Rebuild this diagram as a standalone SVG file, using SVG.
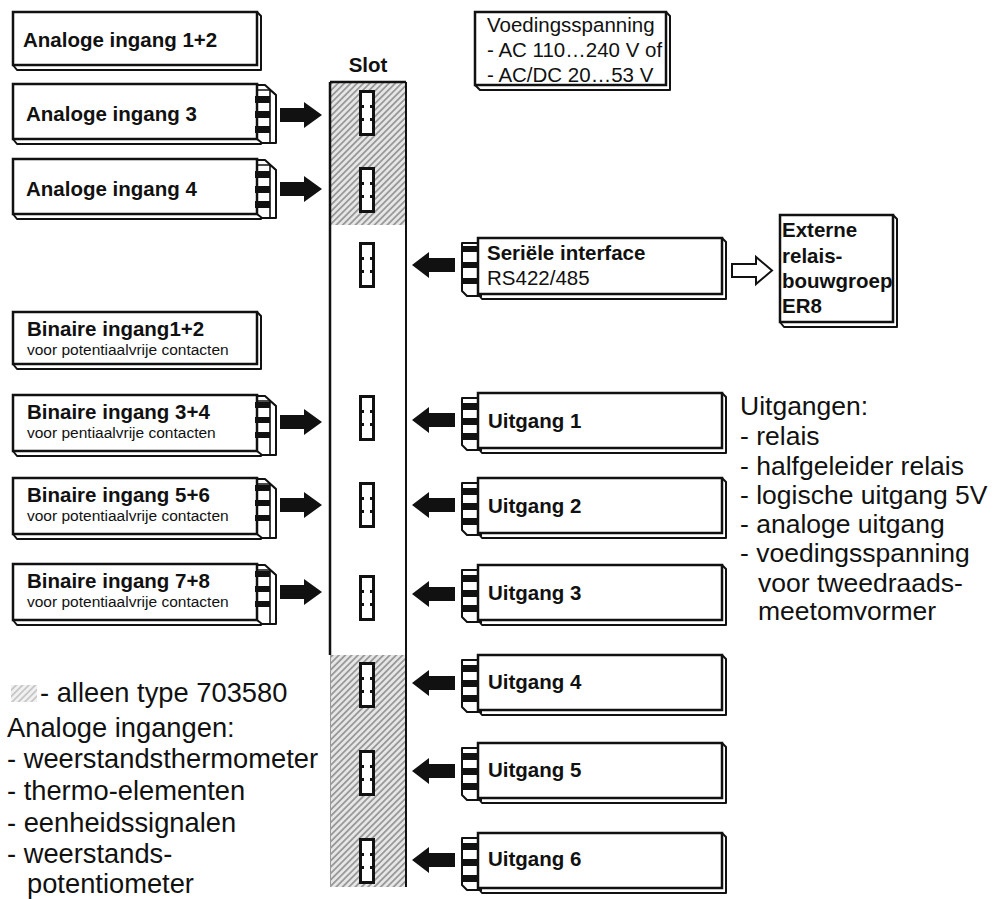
<svg xmlns="http://www.w3.org/2000/svg" xmlns:xlink="http://www.w3.org/1999/xlink" width="998" height="899" viewBox="0 0 998 899">
<defs>
<style>
.face{fill:#fff;stroke:#111;stroke-width:2.5}
.edge{fill:#fff;stroke:#111;stroke-width:2;stroke-linejoin:round}
.ln{fill:none;stroke:#111;stroke-width:1.6}
.tooth{fill:#111}
.arr{fill:#111}
.harr{fill:#fff;stroke:#111;stroke-width:2}
.b{font-family:"Liberation Sans",Arial,sans-serif;font-weight:bold;font-size:20.5px;fill:#111}
.r{font-family:"Liberation Sans",Arial,sans-serif;font-size:20.5px;fill:#111}
.s{font-family:"Liberation Sans",Arial,sans-serif;font-size:15.5px;fill:#111}
.lg{font-family:"Liberation Sans",Arial,sans-serif;font-size:26.5px;fill:#111}
.lg2{font-family:"Liberation Sans",Arial,sans-serif;font-size:27.3px;fill:#111}
.col{stroke:#111;fill:none}
</style>
<pattern id="hatch" width="4.5" height="4.5" patternUnits="userSpaceOnUse" patternTransform="rotate(45)">
<rect width="4.5" height="4.5" fill="#e6e6e6"/>
<rect width="1.8" height="4.5" fill="#999"/>
</pattern>
<g id="conn">
<rect x="-8" y="-23" width="16" height="46" fill="#111"/>
<rect x="-5" y="-20" width="10" height="40" fill="#fff"/>
<path d="M-5,-8h2v3h-2zM3,-8h2v3h-2zM-5,5h2v3h-2zM3,5h2v3h-2z" fill="#111"/>
</g>
<path id="ar" d="M0,-7H24V-13L42,0L24,13V7H0Z"/>
<path id="al" d="M0,0L17,-13V-7H43V7H17V13Z"/>
</defs>
<rect width="998" height="899" fill="#fff"/>

<!-- slot column -->
<g id="slot">
<rect x="331" y="82" width="75" height="143" fill="url(#hatch)"/>
<rect x="331" y="225" width="75" height="430" fill="#fff"/>
<rect x="331" y="655" width="75" height="232" fill="url(#hatch)"/>
<path class="col" stroke-width="2.5" d="M330,82H406M330,82V655"/>
<path class="col" stroke-width="2" d="M406,82V887"/>
<path stroke="#999" stroke-width="1" d="M330.5,655V887" fill="none"/>
<text class="b" x="368" y="72" text-anchor="middle" font-size="21">Slot</text>
<use xlink:href="#conn" x="367" y="113"/>
<use xlink:href="#conn" x="367" y="190"/>
<use xlink:href="#conn" x="367" y="265"/>
<use xlink:href="#conn" x="367" y="418"/>
<use xlink:href="#conn" x="367" y="505"/>
<use xlink:href="#conn" x="367" y="598"/>
<use xlink:href="#conn" x="367" y="685"/>
<use xlink:href="#conn" x="367" y="773"/>
<use xlink:href="#conn" x="367" y="861"/>
</g>

<!-- left cards -->
<g id="ai12">
<polygon class="edge" points="257,12 261,16 261,70 17,70 13,65"/>
<rect class="face" x="13" y="12" width="244" height="53"/>
<text class="b" x="23" y="47">Analoge ingang 1+2</text>
</g>
<g id="ai3">
<polygon class="edge" points="257,84 261,88 261,144 17,144 13,139"/>
<polygon class="edge" points="257,85 265,85 276,95 276,143 262,143 257,139"/>
<path class="ln" d="M257,90H270L276,95M270,90V143"/>
<rect class="face" x="13" y="84" width="244" height="55"/>
<rect class="tooth" x="255" y="96" width="15" height="7"/>
<rect class="tooth" x="255" y="111" width="15" height="7"/>
<rect class="tooth" x="255" y="126" width="15" height="7"/>
<text class="b" x="26" y="121">Analoge ingang 3</text>
</g>
<g id="ai4">
<polygon class="edge" points="257,159 261,163 261,219 17,219 13,214"/>
<polygon class="edge" points="257,160 265,160 276,170 276,218 262,218 257,214"/>
<path class="ln" d="M257,165H270L276,170M270,165V218"/>
<rect class="face" x="13" y="159" width="244" height="55"/>
<rect class="tooth" x="255" y="171" width="15" height="7"/>
<rect class="tooth" x="255" y="186" width="15" height="7"/>
<rect class="tooth" x="255" y="201" width="15" height="7"/>
<text class="b" x="26" y="196">Analoge ingang 4</text>
</g>
<g id="bi12">
<polygon class="edge" points="257,312 261,316 261,369 17,369 13,364"/>
<rect class="face" x="13" y="312" width="244" height="52"/>
<text class="b" x="27" y="336">Binaire ingang1+2</text>
<text class="s" x="27" y="355">voor potentiaalvrije contacten</text>
</g>
<g id="bi34">
<polygon class="edge" points="257,395 261,399 261,456 17,456 13,451"/>
<polygon class="edge" points="257,396 265,396 276,406 276,455 262,455 257,451"/>
<path class="ln" d="M257,401H270L276,406M270,401V455"/>
<rect class="face" x="13" y="395" width="244" height="56"/>
<rect class="tooth" x="255" y="402" width="15" height="6"/>
<rect class="tooth" x="255" y="417" width="15" height="6"/>
<rect class="tooth" x="255" y="432" width="15" height="6"/>
<text class="b" x="27" y="419">Binaire ingang 3+4</text>
<text class="s" x="27" y="438">voor pentiaalvrije contacten</text>
</g>
<g id="bi56">
<polygon class="edge" points="257,478 261,482 261,539 17,539 13,534"/>
<polygon class="edge" points="257,479 265,479 276,489 276,538 262,538 257,534"/>
<path class="ln" d="M257,484H270L276,489M270,484V538"/>
<rect class="face" x="13" y="478" width="244" height="56"/>
<rect class="tooth" x="255" y="485" width="15" height="6"/>
<rect class="tooth" x="255" y="500" width="15" height="6"/>
<rect class="tooth" x="255" y="515" width="15" height="6"/>
<text class="b" x="27" y="502">Binaire ingang 5+6</text>
<text class="s" x="27" y="521">voor potentiaalvrije contacten</text>
</g>
<g id="bi78">
<polygon class="edge" points="257,564 261,568 261,625 17,625 13,620"/>
<polygon class="edge" points="257,565 265,565 276,575 276,624 262,624 257,620"/>
<path class="ln" d="M257,570H270L276,575M270,570V624"/>
<rect class="face" x="13" y="564" width="244" height="56"/>
<rect class="tooth" x="255" y="571" width="15" height="6"/>
<rect class="tooth" x="255" y="586" width="15" height="6"/>
<rect class="tooth" x="255" y="601" width="15" height="6"/>
<text class="b" x="27" y="588">Binaire ingang 7+8</text>
<text class="s" x="27" y="607">voor potentiaalvrije contacten</text>
</g>

<!-- power box -->
<g id="power">
<polygon class="edge" stroke-width="1.6" points="666,12 670,16 670,90 480,90 475,85"/>
<rect class="face" stroke-width="1.8" x="475" y="12" width="191" height="73"/>
<text class="r" x="487" y="32">Voedingsspanning</text>
<text class="r" x="487" y="57">- AC 110…240 V of</text>
<text class="r" x="487" y="82">- AC/DC 20…53 V</text>
</g>

<!-- right cards -->
<g id="serial">
<polygon class="edge" points="722,238 726,242 726,299 482,299 478,294"/>
<path class="edge" d="M478,243H462V291L467,296H482"/>
<rect class="face" x="478" y="238" width="244" height="56"/>
<rect class="tooth" x="462" y="246" width="17" height="6"/>
<rect class="tooth" x="462" y="262" width="17" height="6"/>
<rect class="tooth" x="462" y="278" width="17" height="6"/>
<text class="b" x="487" y="260">Seriële interface</text>
<text class="r" x="487" y="285" font-size="20">RS422/485</text>
</g>
<g id="er8">
<polygon class="edge" points="893,215 897,219 897,327 784,327 780,322"/>
<rect class="face" x="780" y="215" width="113" height="107"/>
<text class="b" x="782" y="237" font-size="19.5">Externe</text>
<text class="b" x="782" y="263" font-size="19.5">relais-</text>
<text class="b" x="782" y="288" font-size="19.5">bouwgroep</text>
<text class="b" x="782" y="313" font-size="19.5">ER8</text>
</g>
<g id="u1">
<polygon class="edge" points="722,393 726,397 726,453 482,453 478,448"/>
<path class="edge" d="M478,398H462V445L467,450H482"/>
<rect class="face" x="478" y="393" width="244" height="55"/>
<rect class="tooth" x="462" y="403" width="17" height="7"/>
<rect class="tooth" x="462" y="418" width="17" height="7"/>
<rect class="tooth" x="462" y="433" width="17" height="7"/>
<text class="b" x="488" y="428">Uitgang 1</text>
</g>
<g id="u2">
<polygon class="edge" points="722,478 726,482 726,538 482,538 478,533"/>
<path class="edge" d="M478,483H462V530L467,535H482"/>
<rect class="face" x="478" y="478" width="244" height="55"/>
<rect class="tooth" x="462" y="488" width="17" height="7"/>
<rect class="tooth" x="462" y="503" width="17" height="7"/>
<rect class="tooth" x="462" y="518" width="17" height="7"/>
<text class="b" x="488" y="513">Uitgang 2</text>
</g>
<g id="u3">
<polygon class="edge" points="722,565 726,569 726,625 482,625 478,620"/>
<path class="edge" d="M478,570H462V617L467,622H482"/>
<rect class="face" x="478" y="565" width="244" height="55"/>
<rect class="tooth" x="462" y="575" width="17" height="7"/>
<rect class="tooth" x="462" y="590" width="17" height="7"/>
<rect class="tooth" x="462" y="605" width="17" height="7"/>
<text class="b" x="488" y="600">Uitgang 3</text>
</g>
<g id="u4">
<polygon class="edge" points="722,655 726,659 726,715 482,715 478,710"/>
<path class="edge" d="M478,660H462V707L467,712H482"/>
<rect class="face" x="478" y="655" width="244" height="55"/>
<rect class="tooth" x="462" y="665" width="17" height="7"/>
<rect class="tooth" x="462" y="680" width="17" height="7"/>
<rect class="tooth" x="462" y="695" width="17" height="7"/>
<text class="b" x="488" y="689">Uitgang 4</text>
</g>
<g id="u5">
<polygon class="edge" points="722,743 726,747 726,803 482,803 478,798"/>
<path class="edge" d="M478,748H462V795L467,800H482"/>
<rect class="face" x="478" y="743" width="244" height="55"/>
<rect class="tooth" x="462" y="753" width="17" height="7"/>
<rect class="tooth" x="462" y="768" width="17" height="7"/>
<rect class="tooth" x="462" y="783" width="17" height="7"/>
<text class="b" x="488" y="777">Uitgang 5</text>
</g>
<g id="u6">
<polygon class="edge" points="722,833 726,837 726,893 482,893 478,888"/>
<path class="edge" d="M478,838H462V885L467,890H482"/>
<rect class="face" x="478" y="833" width="244" height="55"/>
<rect class="tooth" x="462" y="843" width="17" height="7"/>
<rect class="tooth" x="462" y="859" width="17" height="7"/>
<rect class="tooth" x="462" y="875" width="17" height="7"/>
<text class="b" x="488" y="866">Uitgang 6</text>
</g>

<!-- connectors -->
<g id="connectors">
<use xlink:href="#ar" class="arr" x="280" y="115"/>
<use xlink:href="#ar" class="arr" x="280" y="189"/>
<use xlink:href="#ar" class="arr" x="280" y="422"/>
<use xlink:href="#ar" class="arr" x="280" y="505"/>
<use xlink:href="#ar" class="arr" x="280" y="592"/>
<use xlink:href="#al" class="arr" x="412" y="265"/>
<use xlink:href="#al" class="arr" x="412" y="420"/>
<use xlink:href="#al" class="arr" x="412" y="505"/>
<use xlink:href="#al" class="arr" x="412" y="594"/>
<use xlink:href="#al" class="arr" x="412" y="683"/>
<use xlink:href="#al" class="arr" x="412" y="771"/>
<use xlink:href="#al" class="arr" x="412" y="860"/>
<polygon class="harr" points="732,264 756,264 756,257 772,270.5 756,284 756,277 732,277"/>
</g>

<!-- legend texts -->
<g id="legend">
<rect x="11" y="685" width="26" height="17" fill="url(#hatch)" opacity="0.55"/>
<text class="lg2" x="40" y="702">- alleen type 703580</text>
<text class="lg2" x="7" y="737">Analoge ingangen:</text>
<text class="lg2" x="7" y="768">- weerstandsthermometer</text>
<text class="lg2" x="7" y="800">- thermo-elementen</text>
<text class="lg2" x="7" y="832">- eenheidssignalen</text>
<text class="lg2" x="7" y="863">- weerstands-</text>
<text class="lg2" x="27" y="893">potentiometer</text>
</g>
<g id="outputs-note">
<text class="lg" x="740" y="415">Uitgangen:</text>
<text class="lg" x="740" y="445">- relais</text>
<text class="lg" x="740" y="475">- halfgeleider relais</text>
<text class="lg" x="740" y="504">- logische uitgang 5V</text>
<text class="lg" x="740" y="533">- analoge uitgang</text>
<text class="lg" x="740" y="562">- voedingsspanning</text>
<text class="lg" x="758" y="592">voor tweedraads-</text>
<text class="lg" x="758" y="620">meetomvormer</text>
</g>
</svg>
